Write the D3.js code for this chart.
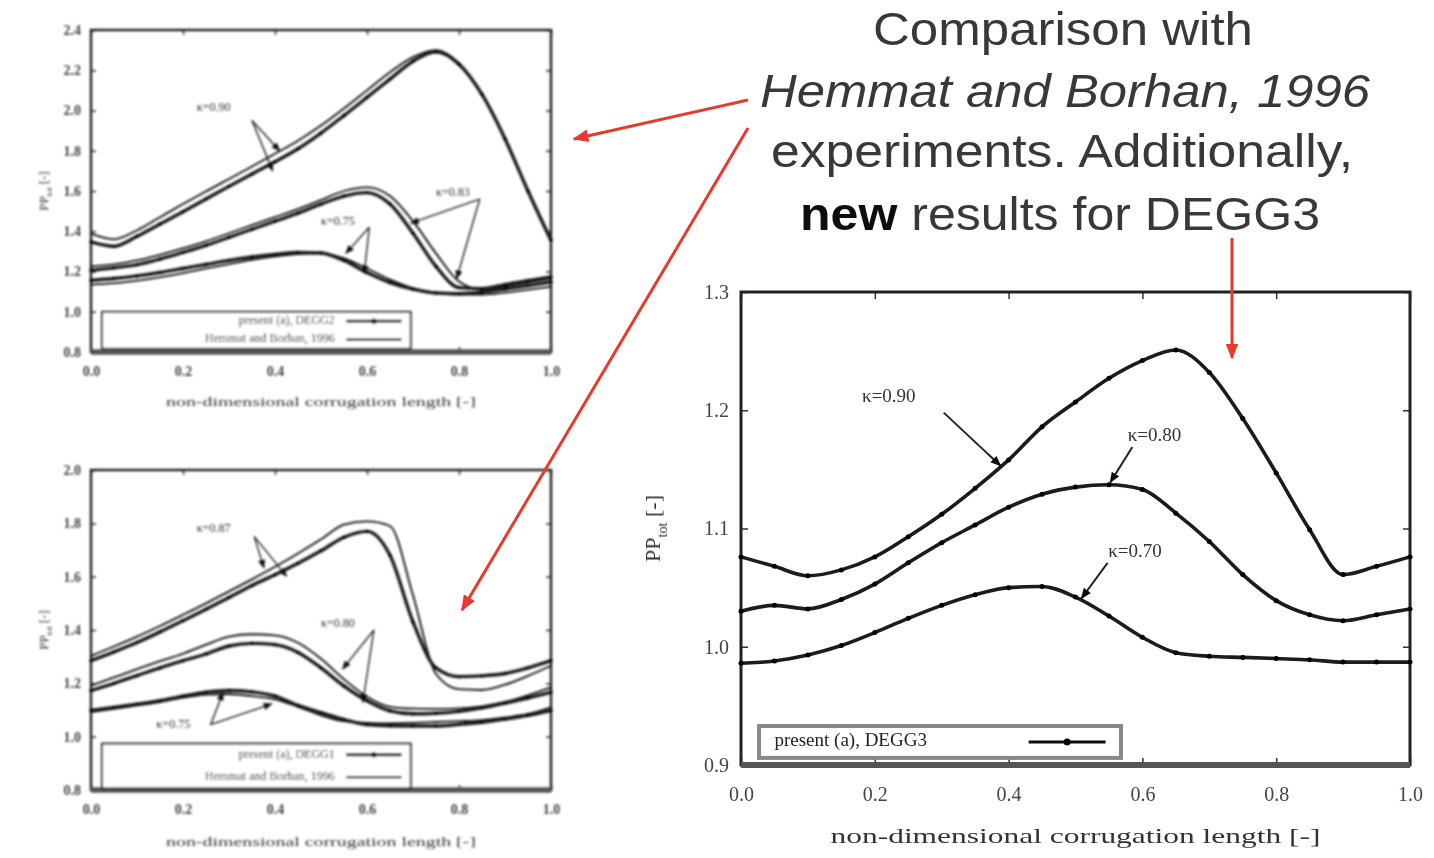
<!DOCTYPE html>
<html>
<head>
<meta charset="utf-8">
<script src="https://cdn.jsdelivr.net/npm/d3@7"></script>
<style>
body { margin: 0; background: #fff; }
svg { display: block; }
</style>
</head>
<body>
<svg id="chart"></svg>
<script>
// shared x positions of the samples (non-dimensional corrugation length)
var xGrid = [0, 0.05, 0.1, 0.15, 0.2, 0.25, 0.3, 0.35, 0.4, 0.45, 0.5,
             0.55, 0.6, 0.65, 0.7, 0.75, 0.8, 0.85, 0.9, 0.95, 1.0];

// right panel: new DEGG3 results
var degg3_k90 = [1.076, 1.068, 1.060, 1.065, 1.076, 1.093, 1.112, 1.134, 1.158, 1.186, 1.207,
                 1.227, 1.242, 1.251, 1.232, 1.193, 1.147, 1.099, 1.061, 1.068, 1.076];
var degg3_k80 = [1.030, 1.035, 1.032, 1.040, 1.053, 1.071, 1.088, 1.103, 1.118, 1.129, 1.135,
                 1.137, 1.133, 1.113, 1.089, 1.061, 1.039, 1.027, 1.022, 1.027, 1.032];
var degg3_k70 = [0.986, 0.988, 0.993, 1.001, 1.012, 1.024, 1.035, 1.044, 1.050, 1.051, 1.042,
                 1.026, 1.008, 0.995, 0.992, 0.991, 0.990, 0.989, 0.987, 0.987, 0.987];

// top-left panel: simulation vs Hemmat and Borhan
var tlSim90 = [1.347, 1.325, 1.375, 1.436, 1.497, 1.560, 1.623, 1.685, 1.745, 1.810, 1.888,
               1.975, 2.065, 2.156, 2.245, 2.292, 2.230, 2.080, 1.860, 1.600, 1.355];
var tlExp90 = [1.388, 1.360, 1.405, 1.470, 1.535, 1.598, 1.660, 1.722, 1.785, 1.850, 1.925,
               2.010, 2.100, 2.190, 2.265, 2.300, 2.235, 2.080, 1.855, 1.595, 1.350];
var tlSim83 = [1.206, 1.218, 1.234, 1.262, 1.295, 1.330, 1.370, 1.410, 1.450, 1.490, 1.535,
               1.575, 1.592, 1.535, 1.390, 1.225, 1.120, 1.115, 1.135, 1.155, 1.173];
var tlExp83 = [1.225, 1.235, 1.255, 1.283, 1.315, 1.350, 1.390, 1.430, 1.470, 1.510, 1.555,
               1.600, 1.618, 1.575, 1.450, 1.290, 1.150, 1.110, 1.125, 1.145, 1.165];
var tlSim75 = [1.156, 1.165, 1.178, 1.195, 1.215, 1.235, 1.255, 1.272, 1.285, 1.295, 1.292,
               1.255, 1.195, 1.145, 1.112, 1.093, 1.090, 1.098, 1.113, 1.130, 1.148];
var tlExp75 = [1.135, 1.142, 1.155, 1.172, 1.192, 1.215, 1.237, 1.258, 1.275, 1.287, 1.290,
               1.265, 1.215, 1.160, 1.118, 1.095, 1.085, 1.085, 1.095, 1.110, 1.125];

// bottom-left panel
var blSim87 = [1.285, 1.318, 1.353, 1.393, 1.435, 1.478, 1.522, 1.567, 1.607, 1.650, 1.697,
               1.748, 1.770, 1.680, 1.430, 1.258, 1.225, 1.228, 1.237, 1.258, 1.285];
var blExp87 = [1.303, 1.338, 1.375, 1.415, 1.457, 1.500, 1.545, 1.590, 1.637, 1.687, 1.740,
               1.795, 1.807, 1.790, 1.530, 1.235, 1.178, 1.175, 1.195, 1.228, 1.266];
var blSim80 = [1.173, 1.200, 1.229, 1.258, 1.285, 1.310, 1.340, 1.350, 1.345, 1.316, 1.258,
               1.190, 1.135, 1.097, 1.086, 1.088, 1.095, 1.108, 1.126, 1.145, 1.167];
var blExp80 = [1.191, 1.222, 1.253, 1.283, 1.311, 1.345, 1.375, 1.384, 1.380, 1.352, 1.292,
               1.215, 1.150, 1.112, 1.105, 1.104, 1.106, 1.114, 1.130, 1.155, 1.185];
var blSim75 = [1.098, 1.110, 1.122, 1.135, 1.152, 1.167, 1.173, 1.168, 1.152, 1.117, 1.090,
               1.064, 1.045, 1.041, 1.040, 1.040, 1.046, 1.054, 1.066, 1.080, 1.098];
var blExp75 = [1.092, 1.104, 1.117, 1.130, 1.146, 1.158, 1.160, 1.152, 1.140, 1.112, 1.080,
               1.058, 1.052, 1.050, 1.052, 1.055, 1.058, 1.062, 1.072, 1.085, 1.110];

// ticks
var xTicks = [0, 0.2, 0.4, 0.6, 0.8, 1.0];
var tlYTicks = [0.8, 1.0, 1.2, 1.4, 1.6, 1.8, 2.0, 2.2, 2.4];
var blYTicks = [0.8, 1.0, 1.2, 1.4, 1.6, 1.8, 2.0];
var rYTicks = [0.9, 1.0, 1.1, 1.2, 1.3];

var titleLines = ["Comparison with", "Hemmat and Borhan, 1996", "experiments. Additionally,"];

var W = 1434, H = 858;
var svg = d3.select("#chart").attr("width", W).attr("height", H);

var defs = svg.append("defs");
function arrowHead(id, color, size) {
    defs.append("marker")
        .attr("id", id)
        .attr("viewBox", "0 0 10 10")
        .attr("refX", 9).attr("refY", 5)
        .attr("markerWidth", size).attr("markerHeight", size)
        .attr("markerUnits", "userSpaceOnUse")
        .attr("orient", "auto")
        .append("path")
        .attr("d", "M0,1 L10,5 L0,9 z")
        .attr("fill", color);
}
arrowHead("headBlack", "#111", 11);
arrowHead("headSmall", "#111", 9);
arrowHead("headRed", "#e83a2c", 16);

defs.append("filter").attr("id", "soft")
    .append("feGaussianBlur").attr("stdDeviation", 0.8);
defs.append("filter").attr("id", "softer")
    .append("feGaussianBlur").attr("stdDeviation", 0.45);

function zip(ys) {
    return ys.map(function(v, i) { return [xGrid[i], v]; });
}

function drawPanel(opt) {
    var g = svg.append("g").attr("filter", opt.filter);
    var x = d3.scaleLinear().domain([0, 1]).range([opt.left, opt.right]);
    var y = d3.scaleLinear().domain(opt.yDomain).range([opt.bottom, opt.top]);
    var fmt = d3.format(".1f");

    // axes with inward ticks, mirrored on top/right
    g.append("g").attr("transform", "translate(0," + opt.bottom + ")")
        .call(d3.axisBottom(x).tickValues(xTicks).tickFormat(fmt).tickSizeInner(-opt.tick).tickSizeOuter(0).tickPadding(opt.padX))
        .call(function(a) { a.select(".domain").remove(); })
        .call(function(a) {
            a.selectAll("text").attr("font-family", "Liberation Serif, serif")
                .attr("font-size", opt.tickFont).attr("font-weight", opt.tickWeight).attr("fill", "#444");
        });
    g.append("g").attr("transform", "translate(0," + opt.top + ")")
        .call(d3.axisTop(x).tickValues(xTicks).tickFormat("").tickSizeInner(-opt.tick).tickSizeOuter(0))
        .call(function(a) { a.select(".domain").remove(); });
    g.append("g").attr("transform", "translate(" + opt.left + ",0)")
        .call(d3.axisLeft(y).tickValues(opt.yTicks).tickFormat(fmt).tickSizeInner(-opt.tick).tickSizeOuter(0).tickPadding(opt.padY))
        .call(function(a) { a.select(".domain").remove(); })
        .call(function(a) {
            a.selectAll("text").attr("font-family", "Liberation Serif, serif")
                .attr("font-size", opt.tickFont).attr("font-weight", opt.tickWeight).attr("fill", "#444");
        });
    g.append("g").attr("transform", "translate(" + opt.right + ",0)")
        .call(d3.axisRight(y).tickValues(opt.yTicks).tickFormat("").tickSizeInner(-opt.tick).tickSizeOuter(0))
        .call(function(a) { a.select(".domain").remove(); });
    g.selectAll(".tick line").attr("stroke", "#333").attr("stroke-width", 1.5);

    // frame
    g.append("rect")
        .attr("x", opt.left).attr("y", opt.top)
        .attr("width", opt.right - opt.left).attr("height", opt.bottom - opt.top)
        .attr("fill", "none").attr("stroke", "#222").attr("stroke-width", opt.frame);
    g.append("line")
        .attr("x1", opt.left).attr("x2", opt.right)
        .attr("y1", opt.bottom).attr("y2", opt.bottom)
        .attr("stroke", "#555").attr("stroke-width", opt.frame + 3);

    var line = d3.line()
        .x(function(d) { return x(d[0]); })
        .y(function(d) { return y(d[1]); })
        .curve(d3.curveMonotoneX);

    // experiment (plain lines)
    (opt.exp || []).forEach(function(s) {
        g.append("path").datum(zip(s))
            .attr("d", line).attr("fill", "none")
            .attr("stroke", "#111").attr("stroke-width", opt.expWidth);
    });
    // simulation (lines with points)
    opt.sim.forEach(function(s) {
        g.append("path").datum(zip(s))
            .attr("d", line).attr("fill", "none")
            .attr("stroke", "#1a1a1a").attr("stroke-width", opt.simWidth);
        g.selectAll(null).data(zip(s)).enter().append("circle")
            .attr("cx", function(d) { return x(d[0]); })
            .attr("cy", function(d) { return y(d[1]); })
            .attr("r", opt.dot).attr("fill", "#000");
    });

    // curve labels with arrows
    opt.labels.forEach(function(l) {
        g.append("text")
            .attr("x", x(l.at[0])).attr("y", y(l.at[1]))
            .attr("dominant-baseline", "middle")
            .attr("font-family", "Liberation Serif, serif")
            .attr("font-size", opt.labelFont).attr("fill", "#333")
            .text(l.text);
        l.to.forEach(function(t) {
            g.append("line")
                .attr("x1", x(l.from[0])).attr("y1", y(l.from[1]))
                .attr("x2", x(t[0])).attr("y2", y(t[1]))
                .attr("stroke", "#222").attr("stroke-width", opt.arrowWidth)
                .attr("marker-end", "url(#" + opt.head + ")");
        });
    });

    // legend
    var lg = opt.legend;
    g.append("rect")
        .attr("x", x(lg.x0)).attr("y", y(lg.y1))
        .attr("width", x(lg.x1) - x(lg.x0)).attr("height", y(lg.y0) - y(lg.y1))
        .attr("fill", "#fff").attr("stroke", lg.stroke).attr("stroke-width", lg.strokeWidth);
    var rowH = (y(lg.y0) - y(lg.y1)) / lg.rows.length;
    lg.rows.forEach(function(r, i) {
        var cy = y(lg.y1) + rowH * (i + 0.5);
        g.append("text")
            .attr("x", x(lg.textX)).attr("y", cy)
            .attr("text-anchor", lg.anchor).attr("dominant-baseline", "middle")
            .attr("font-family", "Liberation Serif, serif")
            .attr("font-size", lg.font).attr("fill", "#222")
            .text(r.text);
        g.append("line")
            .attr("x1", x(lg.s0)).attr("x2", x(lg.s1))
            .attr("y1", cy).attr("y2", cy)
            .attr("stroke", "#111").attr("stroke-width", r.dot ? opt.simWidth - 0.5 : opt.expWidth + 0.5);
        if (r.dot) {
            g.append("circle").attr("cx", (x(lg.s0) + x(lg.s1)) / 2).attr("cy", cy)
                .attr("r", opt.dot + 1).attr("fill", "#000");
        }
    });

    // axis titles
    var yl = g.append("text")
        .attr("transform", "translate(" + opt.yLabelX + "," + (opt.top + opt.bottom) / 2 + ") rotate(-90)")
        .attr("text-anchor", "middle")
        .attr("font-family", "Liberation Serif, serif")
        .attr("font-size", opt.axisFont).attr("fill", "#333");
    yl.append("tspan").text("PP");
    yl.append("tspan").attr("font-size", opt.axisFont * 0.65).attr("dy", opt.axisFont * 0.3).text("tot");
    yl.append("tspan").attr("dy", -opt.axisFont * 0.3).text(" [-]");

    g.append("text")
        .attr("x", (opt.left + opt.right) / 2).attr("y", opt.xLabelY)
        .attr("text-anchor", "middle")
        .attr("font-family", "Liberation Serif, serif")
        .attr("font-size", opt.axisFont).attr("fill", "#333")
        .attr("textLength", opt.xLabelLen).attr("lengthAdjust", "spacingAndGlyphs")
        .text("non-dimensional corrugation length [-]");
}

// top-left
drawPanel({
    left: 91, right: 551, top: 30, bottom: 352,
    yDomain: [0.8, 2.4], yTicks: tlYTicks,
    tick: 5, padX: 14, padY: 10, tickFont: 14, tickWeight: "bold", frame: 2.5, filter: "url(#soft)",
    sim: [tlSim90, tlSim83, tlSim75], exp: [tlExp90, tlExp83, tlExp75],
    simWidth: 3.4, expWidth: 1.8, dot: 1.7,
    labelFont: 12, arrowWidth: 1.4, head: "headSmall",
    labels: [
        { text: "κ=0.90", at: [0.23, 2.01], from: [0.35, 1.95], to: [[0.41, 1.80], [0.395, 1.70]] },
        { text: "κ=0.83", at: [0.75, 1.588], from: [0.845, 1.56], to: [[0.695, 1.44], [0.795, 1.165]] },
        { text: "κ=0.75", at: [0.5, 1.446], from: [0.605, 1.42], to: [[0.554, 1.29], [0.594, 1.19]] }
    ],
    legend: {
        x0: 0.024, x1: 0.695, y0: 0.816, y1: 0.999, stroke: "#222", strokeWidth: 2,
        textX: 0.53, anchor: "end", s0: 0.555, s1: 0.675, font: 12,
        rows: [{ text: "present (a), DEGG2", dot: true }, { text: "Hemmat and Borhan, 1996", dot: false }]
    },
    axisFont: 13, yLabelX: 48, xLabelY: 406, xLabelLen: 310
});

// bottom-left
drawPanel({
    left: 91, right: 551, top: 470, bottom: 790,
    yDomain: [0.8, 2.0], yTicks: blYTicks,
    tick: 5, padX: 14, padY: 10, tickFont: 14, tickWeight: "bold", frame: 2.5, filter: "url(#soft)",
    sim: [blSim87, blSim80, blSim75], exp: [blExp87, blExp80, blExp75],
    simWidth: 3.4, expWidth: 1.8, dot: 1.7,
    labelFont: 12, arrowWidth: 1.4, head: "headSmall",
    labels: [
        { text: "κ=0.87", at: [0.23, 1.776], from: [0.355, 1.75], to: [[0.376, 1.633], [0.425, 1.602]] },
        { text: "κ=0.80", at: [0.5, 1.421], from: [0.615, 1.40], to: [[0.547, 1.254], [0.591, 1.129]] },
        { text: "κ=0.75", at: [0.142, 1.042], from: [0.26, 1.045], to: [[0.287, 1.166], [0.393, 1.123]] }
    ],
    legend: {
        x0: 0.024, x1: 0.695, y0: 0.806, y1: 0.974, stroke: "#222", strokeWidth: 2,
        textX: 0.53, anchor: "end", s0: 0.555, s1: 0.675, font: 12,
        rows: [{ text: "present (a), DEGG1", dot: true }, { text: "Hemmat and Borhan, 1996", dot: false }]
    },
    axisFont: 13, yLabelX: 48, xLabelY: 846, xLabelLen: 310
});

// right: new DEGG3 results
drawPanel({
    left: 741, right: 1410, top: 292, bottom: 765,
    yDomain: [0.9, 1.3], yTicks: rYTicks,
    tick: 7, padX: 22, padY: 12, tickFont: 20, tickWeight: "normal", frame: 3, filter: "url(#softer)",
    sim: [degg3_k90, degg3_k80, degg3_k70], exp: [],
    simWidth: 3.6, expWidth: 1.6, dot: 2.5,
    labelFont: 19, arrowWidth: 2, head: "headBlack",
    labels: [
        { text: "κ=0.90", at: [0.181, 1.211], from: [0.303, 1.198], to: [[0.388, 1.153]] },
        { text: "κ=0.80", at: [0.578, 1.178], from: [0.585, 1.169], to: [[0.552, 1.139]] },
        { text: "κ=0.70", at: [0.549, 1.080], from: [0.548, 1.071], to: [[0.509, 1.041]] }
    ],
    legend: {
        x0: 0.027, x1: 0.568, y0: 0.906, y1: 0.933, stroke: "#888", strokeWidth: 4,
        textX: 0.05, anchor: "start", s0: 0.43, s1: 0.545, font: 19,
        rows: [{ text: "present (a), DEGG3", dot: true }]
    },
    axisFont: 22, yLabelX: 660, xLabelY: 843, xLabelLen: 490
});

// annotation text
var tg = svg.append("g").attr("filter", "url(#softer)")
    .attr("font-family", "Liberation Sans, Arial, sans-serif")
    .attr("font-size", 46).attr("fill", "#383838");
var lines = [
    { x: 873, y: 45, w: 380, italic: false },
    { x: 760, y: 107, w: 610, italic: true },
    { x: 771, y: 167, w: 582, italic: false }
];
lines.forEach(function(l, i) {
    tg.append("text").attr("x", l.x).attr("y", l.y)
        .attr("textLength", l.w).attr("lengthAdjust", "spacingAndGlyphs")
        .attr("font-style", l.italic ? "italic" : "normal")
        .text(titleLines[i]);
});
var last = tg.append("text").attr("x", 800).attr("y", 230)
    .attr("textLength", 520).attr("lengthAdjust", "spacingAndGlyphs");
last.append("tspan").attr("font-weight", "bold").attr("fill", "#111").text("new");
last.append("tspan").text(" results for DEGG3");

// red arrows
var redArrows = [
    [[748, 100], [574, 139]],
    [[748, 128], [462, 610]],
    [[1232, 238], [1232, 358]]
];
svg.selectAll(".red").data(redArrows).enter().append("line")
    .attr("class", "red")
    .attr("x1", function(d) { return d[0][0]; }).attr("y1", function(d) { return d[0][1]; })
    .attr("x2", function(d) { return d[1][0]; }).attr("y2", function(d) { return d[1][1]; })
    .attr("stroke", "#e83a2c").attr("stroke-width", 3)
    .attr("marker-end", "url(#headRed)");
</script>
</body>
</html>
